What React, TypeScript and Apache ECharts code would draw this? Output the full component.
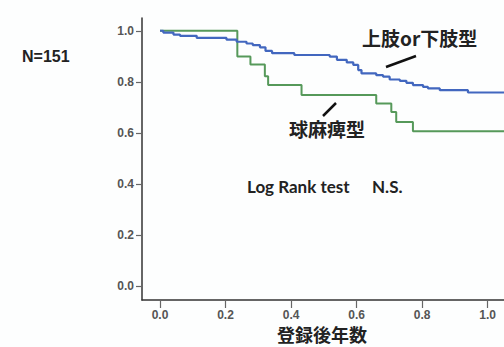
import React, { useEffect, useRef } from "react";
import * as echarts from "echarts";

const tickValues = [0, 0.2, 0.4, 0.6, 0.8, 1.0];

const limbX = [0, 0.010, 0.041, 0.061, 0.112, 0.203, 0.234, 0.264, 0.283, 0.305, 0.322, 0.342, 0.41, 0.518, 0.54, 0.57, 0.59, 0.605, 0.615, 0.66, 0.681, 0.701, 0.732, 0.752, 0.772, 0.803, 0.818, 0.854, 0.94, 1.05];
const limbY = [1.0, 0.993, 0.985, 0.980, 0.972, 0.965, 0.957, 0.950, 0.944, 0.935, 0.921, 0.912, 0.905, 0.899, 0.886, 0.876, 0.866, 0.846, 0.833, 0.826, 0.820, 0.809, 0.804, 0.796, 0.787, 0.780, 0.774, 0.767, 0.758, 0.758];

const bulbarX = [0, 0.236, 0.276, 0.320, 0.330, 0.432, 0.66, 0.706, 0.721, 0.772, 1.05];
const bulbarY = [1.0, 0.899, 0.868, 0.822, 0.787, 0.748, 0.715, 0.682, 0.642, 0.606, 0.606];

const cjk = '"Noto Sans CJK JP", "Noto Sans CJK SC", sans-serif';

export default function App() {
  const ref = useRef<HTMLDivElement>(null);
  useEffect(() => {
    if (!ref.current) return;
    const chart = echarts.init(ref.current, null, { renderer: "svg" });
    const axisCommon = {
      type: "value" as const,
      axisLine: { show: true, onZero: false, lineStyle: { color: "#333", width: 1.5 } },
      splitLine: { show: false },
    };
    chart.setOption({
      animation: false,
      backgroundColor: "#fdfefe",
      grid: { left: 142, top: 18, width: 362, height: 282 },
      xAxis: {
        ...axisCommon,
        min: -0.055,
        max: 1.05,
        axisTick: { show: true, length: 8, customValues: tickValues, lineStyle: { color: "#666", width: 1.2 } },
        axisLabel: {
          customValues: tickValues,
          margin: 9,
          color: "#555",
          fontSize: 12,
          fontWeight: "bold",
          fontFamily: "Liberation Sans",
          formatter: (v: number) => v.toFixed(1),
        },
      },
      yAxis: {
        ...axisCommon,
        min: -0.055,
        max: 1.05,
        axisTick: { show: true, length: 6, customValues: tickValues, lineStyle: { color: "#666", width: 1.2 } },
        axisLabel: {
          customValues: tickValues,
          margin: 8,
          color: "#555",
          fontSize: 12,
          fontWeight: "bold",
          fontFamily: "Liberation Sans",
          formatter: (v: number) => v.toFixed(1),
        },
      },
      series: [
        {
          name: "上肢or下肢型",
          type: "line",
          step: "end",
          symbol: "none",
          lineStyle: { color: "#4267bf", width: 2.2 },
          data: limbX.map((x, i) => [x, limbY[i]]),
          z: 3,
        },
        {
          name: "球麻痺型",
          type: "line",
          step: "end",
          symbol: "none",
          lineStyle: { color: "#56995a", width: 2 },
          data: bulbarX.map((x, i) => [x, bulbarY[i]]),
          z: 2,
        },
      ],
      graphic: [
        {
          type: "text",
          left: 22,
          top: 48,
          style: { text: "N=151", font: 'bold 16px "Liberation Sans", Arial, sans-serif', fill: "#222" },
        },
        {
          type: "text",
          left: 362,
          top: 28,
          style: { text: "上肢or下肢型", font: `bold 19px ${cjk}`, fill: "#222" },
        },
        {
          type: "line",
          shape: { x1: 386, y1: 67, x2: 416, y2: 56 },
          style: { stroke: "#111", lineWidth: 2.5 },
        },
        {
          type: "text",
          left: 289,
          top: 119,
          style: { text: "球麻痺型", font: `bold 19px ${cjk}`, fill: "#222" },
        },
        {
          type: "line",
          shape: { x1: 323, y1: 116, x2: 336, y2: 103 },
          style: { stroke: "#111", lineWidth: 2.5 },
        },
        {
          type: "text",
          left: 247,
          top: 178,
          style: { text: "Log Rank test", font: 'bold 17px Lato, "Open Sans", sans-serif', fill: "#222" },
        },
        {
          type: "text",
          left: 372,
          top: 178,
          style: { text: "N.S.", font: 'bold 17px Lato, "Open Sans", sans-serif', fill: "#222" },
        },
        {
          type: "text",
          left: 277,
          top: 325,
          style: { text: "登録後年数", font: `bold 18px ${cjk}`, fill: "#222" },
        },
      ],
    });
    return () => chart.dispose();
  }, []);
  return <div ref={ref} style={{ position: "absolute", left: 0, top: 0, width: 504, height: 347 }} />;
}
